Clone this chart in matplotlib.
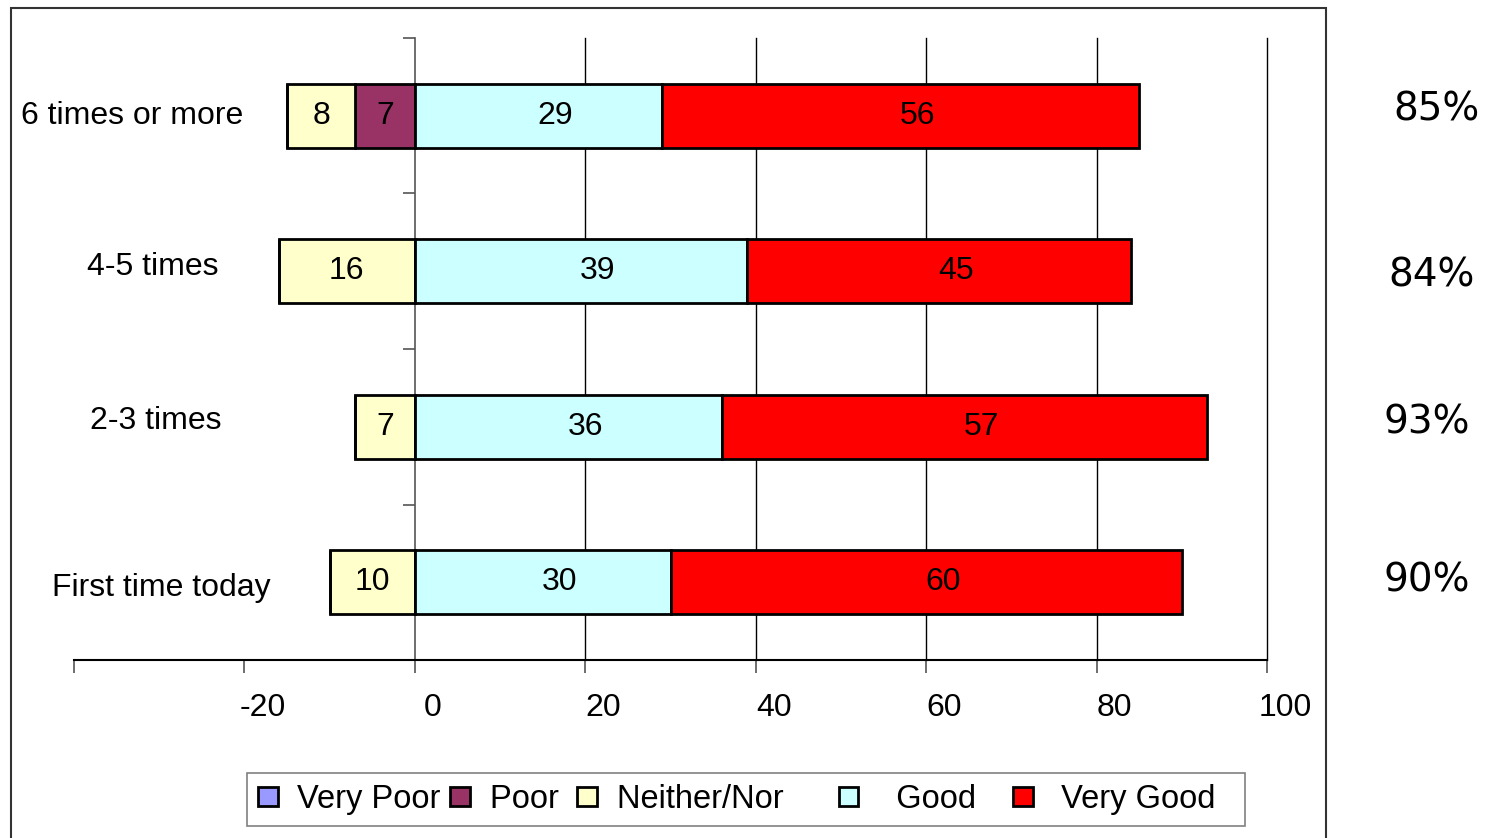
import matplotlib
matplotlib.use('Agg')
import matplotlib.pyplot as plt
import matplotlib.transforms as mtransforms
from matplotlib.patches import Patch, Rectangle
import numpy as np

plt.rcParams['font.family'] = ['Liberation Sans', 'DejaVu Sans']

groups = ['6 times or more', '4-5 times', '2-3 times', 'First time today']
very_poor = [0, 0, 0, 0]
poor = [7, 0, 0, 0]
neither = [8, 16, 7, 10]
good = [29, 39, 36, 30]
very_good = [56, 45, 57, 60]

rating_names = ['Very Poor', 'Poor', 'Neither/Nor', 'Good', 'Very Good']
rating_colors = ['#9999FF', '#993366', '#FFFFCC', '#CCFFFF', '#FF0000']
x_ticks = [-40, -20, 0, 20, 40, 60, 80, 100]
x_ticklabels = ['', '-20', '0', '20', '40', '60', '80', '100']

# text box placement (data x, y nudge) for group names and percentages
name_pos = [(-33.2, 0.0), (-30.8, 0.03), (-30.4, 0.035), (-29.8, -0.04)]
pct_pos = [(1437, 0.04), (1432, -0.03), (1427, 0.03), (1427, 0.01)]

fig = plt.figure(figsize=(14.88, 8.38), dpi=100)
ax = fig.add_axes([74/1488, 1 - 660/838, (1267 - 74)/1488, (660 - 38)/838])

ypos = np.arange(len(groups))[::-1] + 0.5  # first group on top
bar_h = 0.41
right_shift = mtransforms.ScaledTranslation(17/100, 0, fig.dpi_scale_trans)

def label_bars(bars, vals, shifted=False):
    tr = ax.transData + right_shift if shifted else ax.transData
    for rect, v in zip(bars, vals):
        if not v:
            continue
        xc = rect.get_x() + rect.get_width() / 2
        yc = rect.get_y() + rect.get_height() / 2
        ax.text(xc, yc, str(v), transform=tr, ha='center', va='center',
                fontsize=23, zorder=4)

# negative side: Poor next to zero, then Neither/Nor, then Very Poor
neg = np.zeros(len(groups))
for vals, ci in [(poor, 1), (neither, 2), (very_poor, 0)]:
    v = np.array(vals)
    bars = ax.barh(ypos, -v, left=-neg, height=bar_h, color=rating_colors[ci],
                   edgecolor='black', linewidth=2, zorder=3)
    label_bars(bars, vals)
    neg += v

# positive side: Good then Very Good
pos = np.zeros(len(groups))
for vals, ci in [(good, 3), (very_good, 4)]:
    v = np.array(vals)
    bars = ax.barh(ypos, v, left=pos, height=bar_h, color=rating_colors[ci],
                   edgecolor='black', linewidth=2, zorder=3)
    label_bars(bars, vals, shifted=True)
    pos += v

ax.set_xlim(-40, 100)
ax.set_ylim(0, len(groups))

for x in x_ticks:
    if x > 0:
        ax.axvline(x, color='black', lw=1, zorder=1, clip_on=False)

ax.spines['top'].set_visible(False)
ax.spines['right'].set_visible(False)
ax.spines['left'].set_position(('data', 0))
ax.spines['left'].set_color('#555555')
ax.spines['left'].set_linewidth(1.2)
ax.spines['bottom'].set_linewidth(1.5)

ax.set_yticks(np.arange(len(groups) + 1))
ax.set_yticklabels([])
ax.tick_params(axis='y', length=9, color='#555555', width=1.2)

ax.set_xticks(x_ticks)
ax.set_xticklabels(x_ticklabels)
ax.tick_params(axis='x', length=9, color='#555555', width=1.2, pad=15, labelsize=23)
tick_shift = mtransforms.ScaledTranslation(18/100, 0, fig.dpi_scale_trans)
for lbl in ax.get_xticklabels():
    lbl.set_transform(lbl.get_transform() + tick_shift)

# group names on the left
for y, name, (nx, dy) in zip(ypos, groups, name_pos):
    ax.text(nx, y + dy, name, ha='center', va='center', fontsize=23)

# share of Good + Very Good on the right
trans = mtransforms.blended_transform_factory(fig.transFigure, ax.transData)
for y, g, vg, (px, dy) in zip(ypos, good, very_good, pct_pos):
    ax.text(px/1488, y + dy, f'{g + vg}%', transform=trans, ha='center', va='center',
            fontsize=28, family='DejaVu Sans', clip_on=False)

handles = [Patch(facecolor=c, edgecolor='black', linewidth=2) for c in rating_colors]
leg_labels = ['Very Poor', 'Poor ', 'Neither/Nor     ', '  Good   ', ' Very Good  ']
leg = fig.legend(handles, leg_labels, loc='center', bbox_to_anchor=(746/1488, 1 - 799.5/838),
                 ncol=5, fontsize=23.5, frameon=True, fancybox=False, edgecolor='#808080',
                 framealpha=1, handlelength=0.6, handleheight=0.55, handletextpad=0.6,
                 columnspacing=0.3, borderpad=0.35, borderaxespad=0)
leg.get_frame().set_linewidth(1.2)

# outer chart frame
fig.add_artist(Rectangle((11/1488, -0.02), (1326 - 11)/1488, 1 - 8/838 + 0.02,
                         transform=fig.transFigure, fill=False, edgecolor='#333333', lw=1.5))

fig.savefig('out.png', dpi=100)
